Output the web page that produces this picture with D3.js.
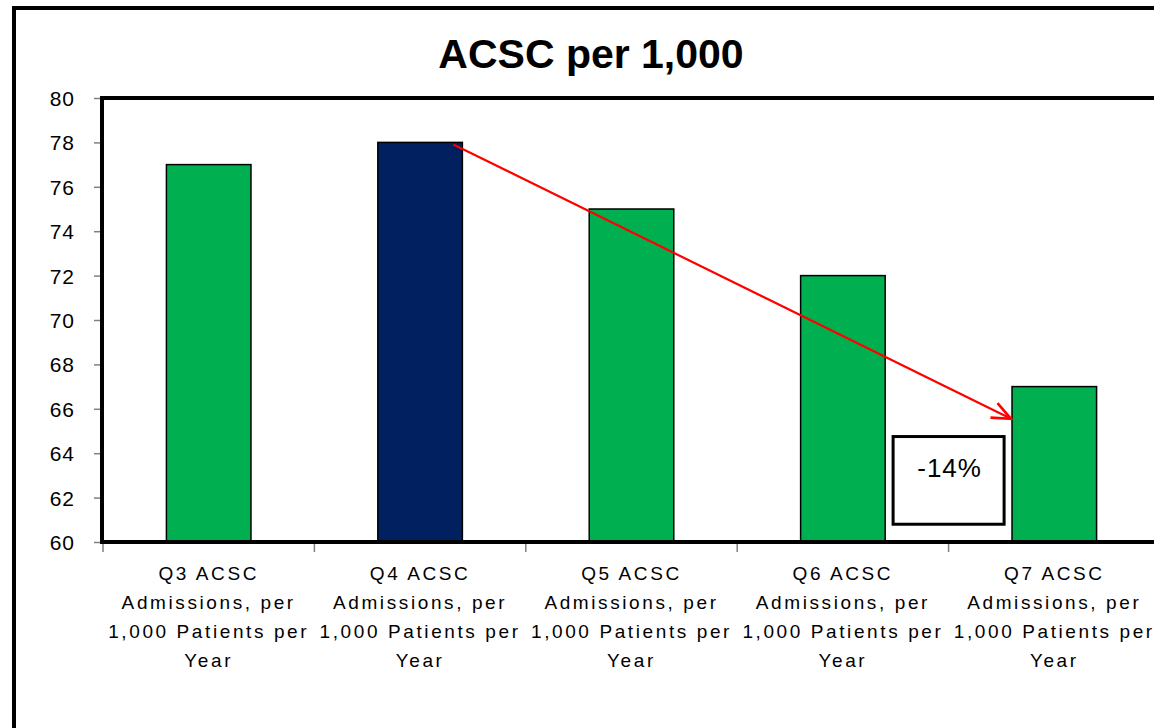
<!DOCTYPE html>
<html>
<head>
<meta charset="utf-8">
<script src="https://cdn.jsdelivr.net/npm/d3@7"></script>
<style>
  body { margin: 0; background: #fff; }
  svg { display: block; }
</style>
</head>
<body>
<svg id="chart" width="1154" height="728"></svg>
<script>
// Quarterly ACSC admissions per 1,000 patients per year
const categories = ["Q3", "Q4", "Q5", "Q6", "Q7"];
const categoryLabels = [
  ["Q3 ACSC", "Admissions, per", "1,000 Patients per", "Year"],
  ["Q4 ACSC", "Admissions, per", "1,000 Patients per", "Year"],
  ["Q5 ACSC", "Admissions, per", "1,000 Patients per", "Year"],
  ["Q6 ACSC", "Admissions, per", "1,000 Patients per", "Year"],
  ["Q7 ACSC", "Admissions, per", "1,000 Patients per", "Year"]
];
const values = [77, 78, 75, 72, 67];
const barColors = ["#00B050", "#002060", "#00B050", "#00B050", "#00B050"];
const yTicks = [60, 62, 64, 66, 68, 70, 72, 74, 76, 78, 80];
const titleText = "ACSC per 1,000";

// Trend annotation: from the Q4 peak down to the Q7 value
const trendFrom = { category: "Q4", value: 78 };
const trendTo = { category: "Q7", value: 65.55 };
const changeText = "-14%";
const changeBox = { between: ["Q6", "Q7"], top: 64.75, bottom: 60.8 };

const svg = d3.select("#chart");

const plot = { left: 102, top: 98, right: 1160, bottom: 542 };

const x = d3.scaleBand()
  .domain(categories)
  .range([plot.left + 1, plot.right])
  .padding(0);

const y = d3.scaleLinear()
  .domain([60, 80])
  .range([plot.bottom, plot.top]);

const barW = x.bandwidth() / 2.5;          // 150% gap width
const barX = c => x(c) + (x.bandwidth() - barW) / 2;

// Outer chart frame
svg.append("rect")
  .attr("x", 14).attr("y", 8)
  .attr("width", 1200).attr("height", 800)
  .attr("fill", "none")
  .attr("stroke", "#000")
  .attr("stroke-width", 4);

// Title
svg.append("text")
  .attr("x", 591).attr("y", 68)
  .attr("text-anchor", "middle")
  .attr("font-family", "Liberation Sans, Arial, sans-serif")
  .attr("font-weight", "bold")
  .attr("font-size", 41)
  .attr("fill", "#000")
  .text(titleText);

// Bars
svg.append("g")
  .selectAll("rect")
  .data(values)
  .join("rect")
  .attr("x", (d, i) => barX(categories[i]))
  .attr("y", d => y(d))
  .attr("width", barW)
  .attr("height", d => y(60) - y(d))
  .attr("fill", (d, i) => barColors[i])
  .attr("stroke", "#000")
  .attr("stroke-width", 1.5);

// Y axis ticks and labels
const yAxis = svg.append("g")
  .attr("transform", `translate(${plot.left},0)`)
  .call(d3.axisLeft(y).tickValues(yTicks).tickSize(8).tickPadding(19).tickFormat(d3.format("d")));
yAxis.select(".domain").remove();
yAxis.selectAll(".tick line").attr("stroke", "#808080").attr("stroke-width", 1.5);
yAxis.selectAll(".tick text")
  .attr("font-family", "Liberation Sans, Arial, sans-serif")
  .attr("font-size", 21)
  .attr("letter-spacing", 1)
  .attr("fill", "#000")
  .attr("dy", "0.36em");

// X axis tick marks at category boundaries
const boundaries = categories.map(c => x(c)).concat([x(categories[categories.length - 1]) + x.bandwidth()]);
svg.append("g")
  .selectAll("line")
  .data(boundaries)
  .join("line")
  .attr("x1", d => d).attr("x2", d => d)
  .attr("y1", plot.bottom).attr("y2", plot.bottom + 10)
  .attr("stroke", "#808080")
  .attr("stroke-width", 1.5);

// Plot area frame
svg.append("rect")
  .attr("x", plot.left).attr("y", plot.top)
  .attr("width", plot.right - plot.left)
  .attr("height", plot.bottom - plot.top)
  .attr("fill", "none")
  .attr("stroke", "#000")
  .attr("stroke-width", 4);

// Category labels
const catG = svg.append("g")
  .selectAll("text")
  .data(categoryLabels)
  .join("text")
  .attr("x", (d, i) => x(categories[i]) + x.bandwidth() / 2)
  .attr("y", 580)
  .attr("text-anchor", "middle")
  .attr("font-family", "Liberation Sans, Arial, sans-serif")
  .attr("font-size", 19)
  .attr("letter-spacing", 2.6)
  .attr("fill", "#000");
catG.selectAll("tspan")
  .data(d => d)
  .join("tspan")
  .attr("x", function () { return d3.select(this.parentNode).attr("x"); })
  .attr("dy", (d, i) => i === 0 ? 0 : 29)
  .text(d => d);

// Trend arrow with an open head
svg.append("defs").append("marker")
  .attr("id", "openArrow")
  .attr("viewBox", "0 0 22 20")
  .attr("refX", 20).attr("refY", 10)
  .attr("markerWidth", 22).attr("markerHeight", 20)
  .attr("markerUnits", "userSpaceOnUse")
  .attr("orient", "auto")
  .append("path")
  .attr("d", "M1,2 L20,10 L1,18")
  .attr("fill", "none")
  .attr("stroke", "#FF0000")
  .attr("stroke-width", 2.6)
  .attr("stroke-linejoin", "miter");

const ax1 = barX(trendFrom.category) + barW - 9;
const ay1 = y(trendFrom.value) + 2;
const ax2 = barX(trendTo.category) - 1;
const ay2 = y(trendTo.value);
svg.append("line")
  .attr("x1", ax1).attr("y1", ay1)
  .attr("x2", ax2).attr("y2", ay2)
  .attr("stroke", "#FF0000")
  .attr("stroke-width", 2.2)
  .attr("marker-end", "url(#openArrow)");

// Change label box
const boxCenter = x(changeBox.between[1]);
const boxW = 111;
svg.append("rect")
  .attr("x", boxCenter - boxW / 2)
  .attr("y", y(changeBox.top))
  .attr("width", boxW)
  .attr("height", y(changeBox.bottom) - y(changeBox.top))
  .attr("fill", "#fff")
  .attr("stroke", "#000")
  .attr("stroke-width", 3);
svg.append("text")
  .attr("x", boxCenter + 1)
  .attr("y", 477)
  .attr("text-anchor", "middle")
  .attr("font-family", "Liberation Sans, Arial, sans-serif")
  .attr("font-size", 26)
  .attr("letter-spacing", 1)
  .attr("fill", "#000")
  .text(changeText);
</script>
</body>
</html>
